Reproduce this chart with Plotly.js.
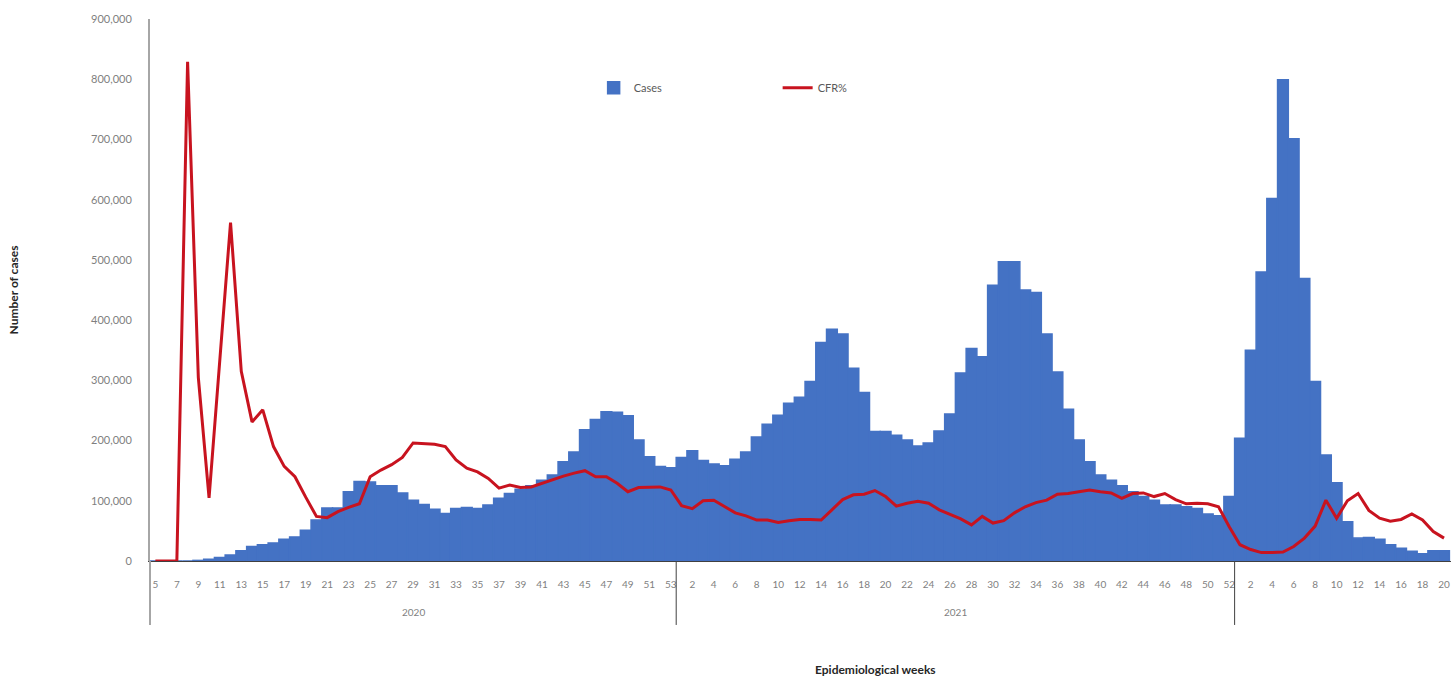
<!DOCTYPE html>
<html>
<head>
<meta charset="utf-8">
<script src="https://cdn.plot.ly/plotly-3.0.1.min.js"></script>
<style>
html,body{margin:0;padding:0;background:#ffffff;overflow:hidden}
#chart{width:1451px;height:682px}
</style>
</head>
<body>
<div id="chart"></div>
<script>
// ---- categories ----
const weeks2020 = [5,6,7,8,9,10,11,12,13,14,15,16,17,18,19,20,21,22,23,24,25,26,27,28,29,30,31,32,33,34,35,36,37,38,39,40,41,42,43,44,45,46,47,48,49,50,51,52,53];
const weeks2021 = [1,2,3,4,5,6,7,8,9,10,11,12,13,14,15,16,17,18,19,20,21,22,23,24,25,26,27,28,29,30,31,32,33,34,35,36,37,38,39,40,41,42,43,44,45,46,47,48,49,50,51,52];
const weeks2022 = [1,2,3,4,5,6,7,8,9,10,11,12,13,14,15,16,17,18,19,20];
const yearLabels = ['2020','2021'];

// ---- weekly cases ----
const cases2020 = [0,0,0,0,1000,3000,6000,10000,17000,24000,27000,30000,36000,40000,51000,68000,88000,88000,115000,132000,131000,125000,125000,113000,101000,94000,86000,79000,87000,89000,87000,93000,104000,112000,119000,125000,134000,143000,165000,181000,218000,235000,248000,247000,241000,201000,173000,157000,155000];
const cases2021 = [172000,183000,167000,161000,158000,169000,181000,206000,227000,242000,262000,272000,298000,363000,385000,377000,320000,280000,215000,215000,209000,201000,191000,196000,216000,244000,312000,353000,339000,458000,497000,497000,450000,446000,377000,314000,252000,201000,165000,143000,134000,125000,115000,107000,101000,93000,93000,90000,87000,78000,75000,107000];
const cases2022 = [204000,350000,480000,602000,799000,701000,469000,298000,176000,130000,65000,38000,39000,36000,27000,21000,16000,12000,17000,17000];

// ---- case fatality rate (%) ----
const cfr2020 = [0,0,0,8.29,3.05,1.05,3.3,5.62,3.15,2.31,2.51,1.90,1.57,1.40,1.06,0.74,0.72,0.82,0.89,0.95,1.40,1.51,1.60,1.72,1.96,1.95,1.94,1.90,1.68,1.54,1.48,1.37,1.21,1.26,1.22,1.23,1.29,1.36,1.41,1.46,1.50,1.40,1.40,1.29,1.15,1.22,1.23,1.23,1.18];
const cfr2021 = [0.92,0.87,1.00,1.01,0.91,0.80,0.75,0.68,0.68,0.64,0.67,0.69,0.69,0.68,0.85,1.02,1.10,1.11,1.17,1.07,0.91,0.96,0.99,0.96,0.85,0.78,0.70,0.60,0.74,0.63,0.67,0.80,0.90,0.97,1.01,1.11,1.12,1.15,1.18,1.15,1.13,1.04,1.12,1.13,1.07,1.12,1.02,0.95,0.96,0.95,0.90,0.57];
const cfr2022 = [0.27,0.19,0.14,0.14,0.15,0.24,0.38,0.58,1.01,0.71,1.00,1.12,0.84,0.71,0.66,0.69,0.78,0.68,0.49,0.38];

// ---- build category axis ----
const cats = [], tickText = [];
weeks2020.forEach(w => { cats.push('2020-' + w); tickText.push(String(w)); });
weeks2021.forEach(w => { cats.push('2021-' + w); tickText.push(String(w)); });
weeks2022.forEach(w => { cats.push('2022-' + w); tickText.push(String(w)); });
const cases = cases2020.concat(cases2021, cases2022);
const cfr = cfr2020.concat(cfr2021, cfr2022);

const tickvals = [], ticktext = [];
for (let i = 0; i < cats.length; i += 2) { tickvals.push(cats[i]); ticktext.push(tickText[i]); }

const n20 = weeks2020.length, n21 = weeks2021.length;
const sep1 = n20 - 0.5, sep2 = n20 + n21 - 0.5;
const lowY = -0.118;

const traces = [
  {
    type: 'bar', name: 'Cases', x: cats, y: cases,
    marker: {color: '#4472C4', line: {color: '#4472C4', width: 1.5}},
    hoverinfo: 'x+y'
  },
  {
    type: 'scatter', mode: 'lines', name: 'CFR%', x: cats, y: cfr, yaxis: 'y2',
    line: {color: '#C8131F', width: 3}
  }
];

const layout = {
  width: 1451, height: 682,
  margin: {l: 150, r: 0, t: 19, b: 121, pad: 0},
  paper_bgcolor: '#ffffff', plot_bgcolor: '#ffffff',
  bargap: 0,
  font: {family: 'Lato, "Liberation Sans", sans-serif', color: '#595959'},
  showlegend: true,
  legend: {
    orientation: 'h', x: 0.341, xanchor: 'left', y: 0.873, yanchor: 'middle',
    entrywidth: 139, entrywidthmode: 'pixels',
    font: {size: 11, color: '#595959'}, bgcolor: 'rgba(0,0,0,0)', traceorder: 'normal'
  },
  xaxis: {
    type: 'category', range: [-0.5, cats.length - 0.35],
    tickmode: 'array', tickvals: tickvals, ticktext: ticktext, tickangle: 0,
    ticks: 'outside', ticklen: 14, tickcolor: 'rgba(0,0,0,0)',
    tickfont: {size: 10, color: '#7f7f7f'},
    showline: true, linecolor: '#404040', linewidth: 1,
    showgrid: false, zeroline: false, fixedrange: true
  },
  yaxis: {
    range: [0, 900000], tickmode: 'linear', tick0: 0, dtick: 100000, tickformat: ',d',
    ticks: 'outside', ticklen: 14, tickcolor: 'rgba(0,0,0,0)',
    tickfont: {size: 11, color: '#7f7f7f'},
    showline: true, linecolor: '#a6a6a6', linewidth: 2,
    showgrid: false, zeroline: false, fixedrange: true,
    title: {text: 'Number of cases', font: {size: 12, color: '#262626', weight: 'bold'}, standoff: 70},
    automargin: true
  },
  yaxis2: {overlaying: 'y', side: 'right', range: [0, 9], visible: false, showgrid: false, zeroline: false, fixedrange: true},
  shapes: [
    {type: 'line', xref: 'paper', yref: 'paper', x0: 0, x1: 0, y0: lowY, y1: 0, line: {color: '#a6a6a6', width: 2}},
    {type: 'line', xref: 'x', yref: 'paper', x0: sep1, x1: sep1, y0: lowY, y1: 0, line: {color: '#404040', width: 1}},
    {type: 'line', xref: 'x', yref: 'paper', x0: sep2, x1: sep2, y0: lowY, y1: 0, line: {color: '#404040', width: 1}}
  ],
  annotations: [
    {xref: 'x', yref: 'paper', x: (n20 - 1) / 2, y: -0.094, text: yearLabels[0], showarrow: false, yanchor: 'middle', font: {size: 10, color: '#7f7f7f'}},
    {xref: 'x', yref: 'paper', x: n20 + (n21 - 1) / 2, y: -0.094, text: yearLabels[1], showarrow: false, yanchor: 'middle', font: {size: 10, color: '#7f7f7f'}},
    {xref: 'paper', yref: 'paper', x: 0.558, y: -0.201, text: 'Epidemiological weeks', showarrow: false, yanchor: 'middle', xanchor: 'center', font: {size: 12, color: '#262626', weight: 'bold'}}
  ]
};

Plotly.newPlot('chart', traces, layout, {displayModeBar: false, staticPlot: true});
</script>
</body>
</html>
